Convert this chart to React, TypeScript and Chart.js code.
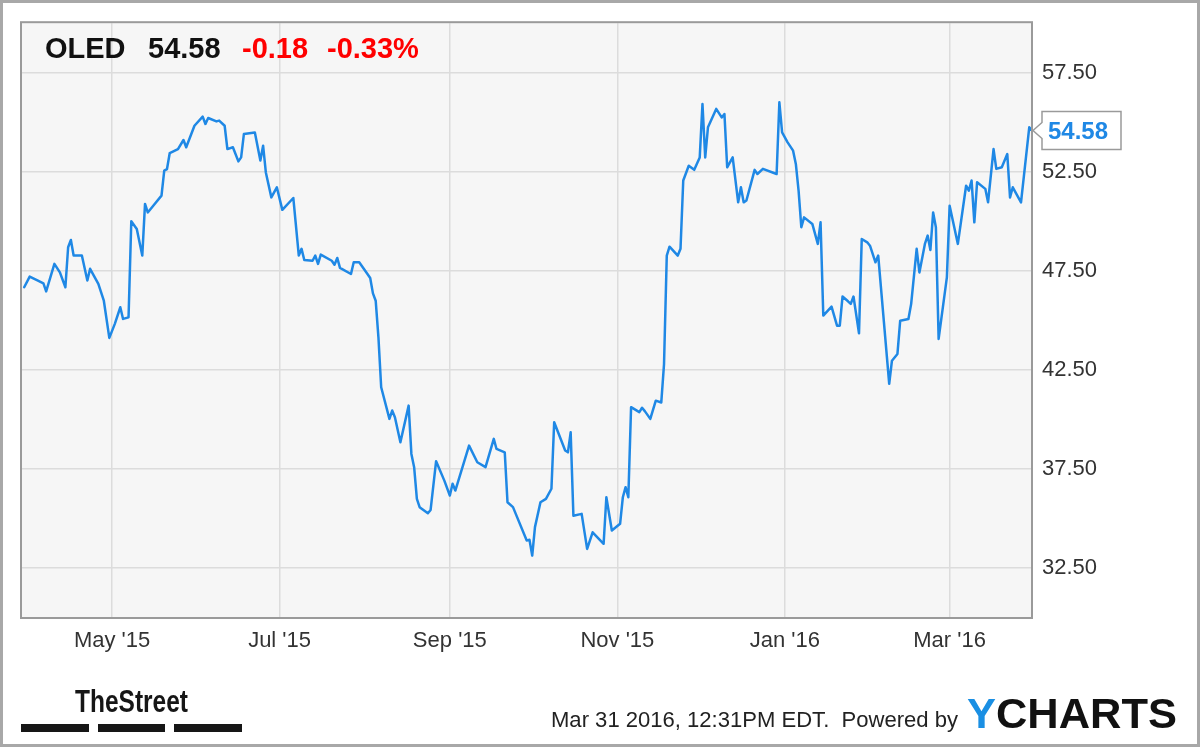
import React, { useEffect, useRef } from "react";
import { Chart, registerables } from "chart.js";

Chart.register(...registerables);

// ---- data ----
const START_DATE = "2015-03-31"; // day 0
const X_MIN_DAY = -1.8;
const X_MAX_DAY = 366;

const DAYS = [
  -1, 1, 4, 6, 7, 10, 12, 14, 15, 16, 17, 20, 22, 23, 26, 28, 30, 32, 34, 35,
  37, 38, 40, 42, 43, 44, 46, 49, 50, 51, 52, 55, 57, 58, 61, 64, 65, 66, 69, 70,
  72, 73, 75, 77, 78, 79, 83, 85, 86, 87, 89, 91, 93, 97, 99, 100, 101, 104, 105, 106,
  107, 111, 112, 113, 114, 118, 119, 121, 124, 125, 126, 127, 128, 129, 132, 133, 134, 136, 139, 140,
  141, 142, 143, 146, 147, 149, 152, 154, 155, 156, 161, 164, 167, 170, 171, 174, 175, 177, 182, 183,
  184, 185, 187, 189, 191, 192, 196, 197, 198, 199, 202, 204, 206, 210, 211, 213, 216, 217, 218, 219,
  220, 223, 224, 225, 227, 229, 231, 232, 233, 234, 237, 238, 239, 241, 243, 245, 246, 247, 248, 251,
  253, 254, 255, 257, 259, 260, 261, 262, 265, 266, 268, 273, 274, 275, 277, 279, 280, 281, 282, 283,
  286, 288, 289, 290, 293, 295, 296, 297, 299, 300, 301, 303, 304, 306, 307, 309, 310, 314, 315, 317,
  318, 321, 322, 324, 325, 327, 328, 329, 330, 331, 332, 335, 336, 339, 342, 343, 344, 345, 346, 349,
  350, 352, 353, 355, 357, 358, 359, 362, 365, 366,
];

const PRICES = [
  46.66, 47.2, 47.0, 46.86, 46.45, 47.84, 47.41, 46.66, 48.68, 49.05, 48.26, 48.26, 47.0, 47.59, 46.83, 45.98, 44.1, 44.81, 45.65, 45.06,
  45.14, 49.99, 49.6, 48.26, 50.87, 50.44, 50.78, 51.29, 52.55, 52.63, 53.44, 53.64, 54.1, 53.73, 54.82, 55.28, 54.91, 55.21, 55.04, 55.08,
  54.82, 53.64, 53.73, 53.02, 53.22, 54.4, 54.48, 53.06, 53.81, 52.46, 51.2, 51.71, 50.57, 51.17, 48.26, 48.6, 48.04, 48.0, 48.26, 47.84,
  48.31, 48.0, 47.8, 48.14, 47.64, 47.33, 47.92, 47.92, 47.33, 47.13, 46.35, 45.98, 44.13, 41.61, 40.01, 40.43, 40.09, 38.83, 40.68, 38.24,
  37.57, 35.97, 35.55, 35.24, 35.41, 37.87, 36.89, 36.14, 36.73, 36.39, 38.66, 37.82, 37.57, 39.0, 38.49, 38.32, 35.8, 35.55, 33.86, 33.9,
  33.1, 34.54, 35.8, 35.97, 36.48, 39.84, 38.41, 38.32, 39.33, 35.12, 35.21, 33.44, 34.28, 33.7, 36.05, 34.37, 34.71, 36.05, 36.56, 36.05,
  40.6, 40.35, 40.57, 40.4, 40.01, 40.93, 40.84, 42.78, 48.26, 48.71, 48.26, 48.6, 52.05, 52.8, 52.59, 53.22, 55.92, 53.22, 54.74, 55.67,
  55.24, 55.41, 52.72, 53.22, 50.95, 51.71, 50.95, 51.04, 52.59, 52.38, 52.64, 52.38, 56.0, 54.48, 53.98, 53.56, 52.89, 51.54, 49.69, 50.19,
  49.86, 48.85, 49.94, 45.23, 45.68, 44.72, 44.72, 46.19, 45.95, 45.82, 46.19, 44.33, 49.1, 48.93, 48.76, 47.92, 48.26, 41.78, 42.95, 43.29,
  44.97, 45.06, 45.82, 48.6, 47.41, 48.85, 49.27, 48.54, 50.44, 49.69, 44.05, 47.16, 50.78, 48.85, 51.79, 51.54, 52.05, 49.94, 51.96, 51.63,
  50.95, 53.64, 52.64, 52.72, 53.39, 51.2, 51.71, 50.95, 54.74, 54.58,
];

const X_TICK_DATES = ["2015-05-01", "2015-07-01", "2015-09-01", "2015-11-01", "2016-01-01", "2016-03-01"];
const X_TICK_LABELS = ["May '15", "Jul '15", "Sep '15", "Nov '15", "Jan '16", "Mar '16"];
const Y_MIN = 30;
const Y_MAX = 60;
const Y_TICKS = [32.5, 37.5, 42.5, 47.5, 52.5, 57.5];

const TICKER = "OLED";
const LAST_PRICE = 54.58;
const CHANGE = "-0.18";
const CHANGE_PCT = "-0.33%";
const TIMESTAMP = "Mar 31 2016, 12:31PM EDT.  Powered by";

const FONT = "'Liberation Sans', Arial, Helvetica, sans-serif";
const BLUE = "#1f88e5";

function dayOf(s: string): number {
  return (Date.parse(s) - Date.parse(START_DATE)) / 86400000;
}

function fitText(ctx: CanvasRenderingContext2D, text: string, x: number, y: number, width: number) {
  const w = ctx.measureText(text).width;
  ctx.save();
  ctx.translate(x, y);
  ctx.scale(width / w, 1);
  ctx.fillText(text, 0, 0);
  ctx.restore();
}

const decorPlugin = {
  id: "decor",
  beforeDraw(chart: any) {
    const { ctx, chartArea } = chart;
    ctx.save();
    ctx.fillStyle = "#ffffff";
    ctx.fillRect(0, 0, chart.width, chart.height);
    ctx.fillStyle = "#f6f6f6";
    ctx.fillRect(chartArea.left, chartArea.top, chartArea.right - chartArea.left, chartArea.bottom - chartArea.top);
    ctx.restore();
  },
  afterDraw(chart: any) {
    const { ctx, chartArea, scales } = chart;
    ctx.save();
    // plot border
    ctx.strokeStyle = "#9a9a9a";
    ctx.lineWidth = 2;
    ctx.strokeRect(chartArea.left - 1, chartArea.top - 1, chartArea.right - chartArea.left + 1, chartArea.bottom - chartArea.top + 2);

    // header
    ctx.textBaseline = "alphabetic";
    ctx.textAlign = "left";
    ctx.font = `bold 29px ${FONT}`;
    ctx.fillStyle = "#111";
    ctx.fillText(TICKER, 45, 58);
    ctx.fillText(LAST_PRICE.toFixed(2), 148, 58);
    ctx.fillStyle = "#ff0000";
    ctx.fillText(CHANGE, 242, 58);
    ctx.fillText(CHANGE_PCT, 327, 58);

    // last value flag
    const y = scales.y.getPixelForValue(LAST_PRICE);
    const bx = chartArea.right + 10;
    const bw = 79;
    const bh = 38;
    ctx.beginPath();
    ctx.moveTo(chartArea.right + 1, y);
    ctx.lineTo(bx, y - 8);
    ctx.lineTo(bx, y - bh / 2);
    ctx.lineTo(bx + bw, y - bh / 2);
    ctx.lineTo(bx + bw, y + bh / 2);
    ctx.lineTo(bx, y + bh / 2);
    ctx.lineTo(bx, y + 8);
    ctx.closePath();
    ctx.fillStyle = "#ffffff";
    ctx.fill();
    ctx.strokeStyle = "#9a9a9a";
    ctx.lineWidth = 1.5;
    ctx.stroke();
    ctx.fillStyle = BLUE;
    ctx.font = `bold 24px ${FONT}`;
    ctx.fillText(LAST_PRICE.toFixed(2), bx + 6, y + 8.5);

    // footer: TheStreet
    ctx.fillStyle = "#161616";
    ctx.font = `bold 32px 'Liberation Sans Narrow', ${FONT}`;
    fitText(ctx, "TheStreet", 75, 712, 113);
    ctx.fillRect(21, 724, 68, 8);
    ctx.fillRect(98, 724, 67, 8);
    ctx.fillRect(174, 724, 68, 8);

    // footer: timestamp + YCHARTS
    ctx.fillStyle = "#222";
    ctx.font = `22px ${FONT}`;
    fitText(ctx, TIMESTAMP, 551, 727, 407);

    ctx.font = `bold 42px ${FONT}`;
    const wAll = ctx.measureText("YCHARTS").width;
    const s = 210 / wAll;
    const wY = ctx.measureText("Y").width * s;
    ctx.fillStyle = "#1a8fe3";
    fitText(ctx, "Y", 967, 728, wY);
    ctx.fillStyle = "#111";
    fitText(ctx, "CHARTS", 967 + wY, 728, 210 - wY);

    // outer frame
    ctx.strokeStyle = "#a8a8a8";
    ctx.lineWidth = 3;
    ctx.strokeRect(1.5, 1.5, chart.width - 3, chart.height - 3);
    ctx.restore();
  },
};

export default function App() {
  const ref = useRef<HTMLCanvasElement | null>(null);

  useEffect(() => {
    document.body.style.margin = "0";
    const canvas = ref.current;
    if (!canvas) return;
    const tickDays = X_TICK_DATES.map(dayOf);
    const points = DAYS.map((d, i) => ({ x: d, y: PRICES[i] }));

    const chart = new Chart(canvas, {
      type: "line",
      data: {
        datasets: [
          {
            data: points,
            borderColor: BLUE,
            borderWidth: 2.5,
            borderJoinStyle: "round",
            borderCapStyle: "round",
            pointRadius: 0,
            tension: 0,
            fill: false,
          },
        ],
      },
      options: {
        animation: false,
        responsive: false,
        maintainAspectRatio: false,
        layout: { padding: { left: 22, top: 22, right: 0, bottom: 90 } },
        plugins: {
          legend: { display: false },
          tooltip: { enabled: false },
          title: { display: false },
        },
        scales: {
          x: {
            type: "linear",
            min: X_MIN_DAY,
            max: X_MAX_DAY,
            afterBuildTicks: (s: any) => {
              s.ticks = tickDays.map((v) => ({ value: v }));
            },
            afterFit: (s: any) => {
              s.height = 40;
            },
            ticks: {
              autoSkip: false,
              maxRotation: 0,
              padding: 11,
              color: "#333",
              font: { size: 22, family: FONT },
              callback: (_v: any, i: number) => X_TICK_LABELS[i],
            },
            grid: { color: "#dcdcdc", lineWidth: 1.5, drawTicks: false },
            border: { display: false },
          },
          y: {
            type: "linear",
            position: "right",
            min: Y_MIN,
            max: Y_MAX,
            afterBuildTicks: (s: any) => {
              s.ticks = Y_TICKS.map((v) => ({ value: v }));
            },
            afterFit: (s: any) => {
              s.width = 168;
            },
            ticks: {
              padding: 10,
              color: "#333",
              font: { size: 22, family: FONT },
              callback: (v: any) => Number(v).toFixed(2),
            },
            grid: { color: "#dcdcdc", lineWidth: 1.5, drawTicks: false },
            border: { display: false },
          },
        },
      },
      plugins: [decorPlugin],
    });
    return () => chart.destroy();
  }, []);

  return (
    <div style={{ width: 1200, height: 747, position: "relative" }}>
      <canvas ref={ref} width={1200} height={747} style={{ width: 1200, height: 747, display: "block" }} />
    </div>
  );
}
